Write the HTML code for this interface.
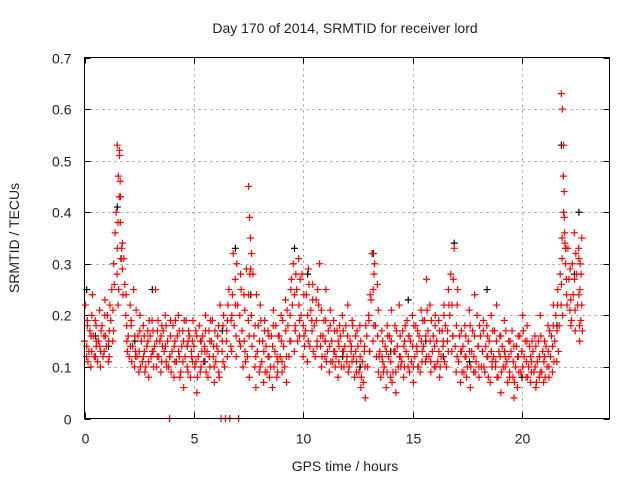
<!DOCTYPE html>
<html><head><meta charset="utf-8"><style>
body{margin:0;background:#fff}
svg{display:block;font-family:"Liberation Sans",sans-serif}
</style></head><body>
<svg id="chart" width="640" height="480">
<text x="345" y="33" text-anchor="middle" font-size="14" fill="#222">Day 170 of 2014, SRMTID for receiver lord</text>
<text transform="translate(19,238) rotate(-90)" text-anchor="middle" font-size="14" fill="#222">SRMTID / TECUs</text>
<text x="345" y="471" text-anchor="middle" font-size="14" fill="#222">GPS time / hours</text>
<g id="grid"></g>
<g id="ticks"></g>
<g id="black"></g>
<g id="red"></g>
<rect x="84.5" y="57.5" width="525" height="361" fill="none" stroke="#000" stroke-width="1"/>
</svg>
<script>
const xTicks=[0,5,10,15,20];
const yTicks=[0,0.1,0.2,0.3,0.4,0.5,0.6,0.7];
const yTickLabels=["0","0.1","0.2","0.3","0.4","0.5","0.6","0.7"];
const redTimes=[0.0,0.2,0.4,0.6,0.8,1.0,1.2,1.4,1.5,1.6,1.8,2.0,2.2,2.4,2.6,2.8,3.0,3.2,3.4,3.6,3.8,4.0,4.2,4.4,4.6,4.8,5.0,5.2,5.4,5.6,5.8,6.0,6.2,6.4,6.6,6.8,7.0,7.2,7.4,7.5,7.7,7.9,8.1,8.3,8.5,8.7,8.9,9.1,9.3,9.5,9.7,9.9,10.1,10.3,10.5,10.7,10.9,11.1,11.3,11.5,11.7,11.9,12.1,12.3,12.5,12.7,12.9,13.1,13.3,13.5,13.7,13.9,14.1,14.3,14.5,14.7,14.9,15.1,15.3,15.5,15.7,15.9,16.1,16.3,16.5,16.7,16.9,17.1,17.3,17.5,17.7,17.9,18.1,18.3,18.5,18.7,18.9,19.1,19.3,19.5,19.7,19.9,20.1,20.3,20.5,20.7,20.9,21.1,21.3,21.5,21.7,21.8,21.9,22.1,22.3,22.5,22.6];
const redVals=[[.15,.22,.12,.18],[.13,.17,.10,.20],[.16,.12,.19,.14],[.11,.15,.21,.13],[.18,.12,.16,.23],[.14,.20,.11,.17],[.19,.25,.15,.30],[.36,.40,.28,.22],[.53,.47,.43,.38],[.52,.43,.31,.34],[.31,.26,.20,.15],[.16,.12,.22,.18],[.14,.25,.10,.13],[.12,.16,.09,.20],[.15,.11,.18,.13],[.10,.14,.17,.08],[.16,.12,.19,.13],[.14,.25,.10,.17],[.12,.15,.09,.18],[.17,.13,.20,.11],[.15,.10,0,.19],[.13,.18,.08,.15],[.11,.16,.20,.12],[.09,.14,.17,.06],[.12,.19,.10,.15],[.16,.08,.13,.11],[.14,.10,.17,.05],[.12,.18,.09,.15],[.16,.11,.14,.20],[.13,.08,.17,.10],[.15,.19,.12,.07],[.11,.14,.16,.09],[.22,0,.13,.18],[.10,0,.15,.19],[.25,0,.14,.20],[.32,.18,.27,.12],[.22,0,.15,.28],[.17,.10,.24,.13],[.29,.12,.19,.08],[.45,.39,.35,.32],[.28,.16,.10,.06],[.13,.18,.09,.22],[.11,.15,.07,.19],[.14,.09,.17,.12],[.10,.16,.06,.21],[.13,.18,.08,.11],[.16,.12,.20,.09],[.14,.10,.23,.07],[.18,.12,.15,.25],[.22,.30,.13,.17],[.25,.15,.31,.19],[.20,.28,.12,.16],[.17,.24,.11,.29],[.14,.21,.19,.26],[.18,.12,.23,.15],[.22,.30,.14,.10],[.16,.19,.12,.25],[.13,.17,.09,.21],[.15,.11,.19,.13],[.12,.17,.08,.14],[.16,.10,.20,.13],[.14,.18,.11,.22],[.10,.15,.13,.19],[.12,.08,.16,.11],[.14,.09,.18,.06],[.11,.07,.13,.04],[.16,.10,.20,.13],[.23,.32,.15,.28],[.18,.12,.26,.09],[.13,.08,.17,.11],[.10,.14,.06,.18],[.12,.16,.08,.21],[.09,.13,.18,.05],[.14,.10,.22,.12],[.11,.17,.08,.15],[.13,.19,.10,.16],[.15,.11,.20,.07],[.12,.18,.14,.10],[.16,.09,.21,.13],[.14,.19,.11,.27],[.17,.12,.22,.09],[.13,.16,.10,.20],[.15,.11,.19,.08],[.12,.17,.14,.22],[.18,.10,.15,.25],[.20,.28,.13,.16],[.33,.14,.09,.22],[.11,.16,.07,.13],[.14,.09,.18,.12],[.10,.15,.21,.06],[.13,.17,.09,.24],[.11,.20,.14,.08],[.16,.10,.13,.19],[.09,.14,.18,.12],[.15,.07,.20,.11],[.12,.17,.10,.22],[.08,.13,.16,.05],[.14,.10,.19,.12],[.11,.07,.15,.09],[.13,.17,.08,.04],[.10,.14,.06,.12],[.16,.09,.13,.20],[.12,.15,.08,.18],[.10,.14,.07,.11],[.13,.09,.16,.06],[.11,.15,.08,.20],[.09,.13,.07,.12],[.14,.10,.18,.08],[.12,.16,.09,.22],[.15,.20,.11,.25],[.18,.28,.22,.35],[.63,.60,.47,.39],[.40,.36,.30,.24],[.33,.27,.21,.18],[.30,.24,.36,.17],[.28,.22,.33,.15],[.31,.25,.19,.35]];
const redVals2=[[.14,.19,.11],[.16,.13,.24],[.12,.18,.15],[.14,.10,.17],[.13,.20,.16],[.15,.12,.22],[.21,.17,.26],[.33,.38,.25],[.51,.46,.31],[.33,.29,.24],[.24,.18,.13],[.14,.19,.11],[.16,.12,.21],[.13,.17,.10],[.12,.16,.09],[.15,.11,.19],[.13,.17,.10],[.15,.12,.19],[.16,.11,.14],[.14,.18,.10],[.12,.16,.09],[.14,.11,.19],[.13,.17,.08],[.11,.15,.19],[.14,.09,.17],[.12,.15,.19],[.11,.16,.08],[.15,.10,.13],[.13,.17,.09],[.12,.15,.19],[.14,.10,.17],[.13,.18,.08],[.15,.11,.20],[.17,.12,.22],[.19,.13,.24],[.22,.16,.30],[.20,.14,.25],[.15,.21,.11],[.24,.16,.28],[.29,.20,.14],[.18,.12,.24],[.15,.10,.19],[.13,.17,.09],[.12,.16,.08],[.14,.18,.10],[.12,.09,.16],[.15,.11,.19],[.17,.12,.21],[.20,.15,.27],[.24,.18,.28],[.22,.16,.27],[.18,.24,.14],[.20,.15,.26],[.17,.23,.13],[.19,.14,.25],[.16,.21,.12],[.15,.19,.11],[.14,.18,.11],[.13,.17,.10],[.15,.11,.18],[.13,.17,.10],[.12,.16,.09],[.14,.11,.18],[.13,.09,.17],[.12,.15,.08],[.14,.10,.18],[.19,.13,.24],[.25,.18,.30],[.16,.21,.12],[.12,.15,.09],[.13,.09,.16],[.11,.15,.07],[.13,.09,.17],[.12,.16,.10],[.14,.10,.18],[.12,.16,.09],[.14,.10,.18],[.13,.17,.10],[.15,.11,.19],[.16,.12,.21],[.15,.11,.19],[.14,.18,.10],[.13,.17,.10],[.15,.20,.11],[.17,.13,.22],[.22,.16,.27],[.18,.12,.25],[.13,.17,.09],[.12,.16,.08],[.13,.18,.10],[.12,.16,.09],[.14,.10,.18],[.13,.17,.10],[.12,.16,.08],[.13,.10,.17],[.11,.15,.08],[.12,.16,.09],[.13,.10,.17],[.12,.08,.15],[.11,.14,.07],[.12,.16,.09],[.13,.10,.17],[.11,.15,.08],[.12,.09,.15],[.10,.14,.07],[.12,.09,.16],[.11,.15,.08],[.13,.10,.17],[.14,.18,.11],[.17,.22,.13],[.26,.31,.20],[.53,.44,.34],[.33,.27,.22],[.29,.23,.19],[.27,.21,.32],[.24,.18,.30],[.28,.22,.17]];
const blackTimes=[0.1,0.5,1.1,1.5,2.3,3.1,3.9,4.7,5.5,6.3,6.9,7.6,8.4,9.6,10.2,11.0,11.8,12.6,13.2,14.0,14.8,15.6,16.4,16.9,17.6,18.4,19.2,20.0,20.8,21.6,21.8,22.0,22.4,22.6];
const blackVals=[0.25,0.16,0.14,0.41,0.15,0.25,0.12,0.14,0.11,0.17,0.33,0.24,0.12,0.33,0.28,0.15,0.12,0.10,0.32,0.13,0.23,0.15,0.12,0.34,0.11,0.25,0.13,0.08,0.12,0.18,0.53,0.33,0.28,0.40];
const NS='http://www.w3.org/2000/svg';
const X0=84.5,X1=609.5,Y0=418.5,Y1=57.5,XMAX=24,YMAX=0.7;
function xs(v){return X0+(X1-X0)*v/XMAX;}
function ys(v){return Y0-(Y0-Y1)*v/YMAX;}
function mk(tag,attrs,parent){const e=document.createElementNS(NS,tag);for(const k in attrs)e.setAttribute(k,attrs[k]);parent.appendChild(e);return e;}
const grid=document.getElementById('grid'),ticks=document.getElementById('ticks');
yTicks.forEach((v,i)=>{
  const y=Math.round(ys(v))+0.5;
  if(i>0&&i<yTicks.length-1){const g=mk('line',{x1:X0,x2:X1,y1:y,y2:y,stroke:'#999','stroke-dasharray':'2,4'},grid);
  
  }
  mk('line',{x1:X0,x2:X0+6,y1:y,y2:y,stroke:'#000'},ticks);
  mk('line',{x1:X1,x2:X1-6,y1:y,y2:y,stroke:'#000'},ticks);
  const t=mk('text',{x:X0-13,y:y+5,'text-anchor':'end','font-size':'14',fill:'#222'},ticks);
  t.textContent=yTickLabels[i];
  
  
});
xTicks.forEach(v=>{
  const x=Math.round(xs(v))+0.5;
  if(v>0){const g=mk('line',{x1:x,x2:x,y1:Y0,y2:Y1,stroke:'#999','stroke-dasharray':'2,4'},grid);
  
  }
  mk('line',{x1:x,x2:x,y1:Y0,y2:Y0-6,stroke:'#000'},ticks);
  mk('line',{x1:x,x2:x,y1:Y1,y2:Y1+6,stroke:'#000'},ticks);
  const t=mk('text',{x:x,y:Y0+25,'text-anchor':'middle','font-size':'14',fill:'#222'},ticks);
  t.textContent=String(v);
  
  
});
function plus(g,t,v,color){
  const x=xs(t),y=ys(v);
  const p=mk('path',{d:`M${x-3.5},${y}H${x+3.5}M${x},${y-3.5}V${y+3.5}`,stroke:color,'stroke-width':'1.2',fill:'none'},g);
  
  
}
const bg=document.getElementById('black'),rg=document.getElementById('red');
blackTimes.forEach((t,i)=>plus(bg,t,blackVals[i],'#000'));
redTimes.forEach((t,i)=>redVals[i].forEach((v,j)=>plus(rg,t+j*0.045,v,'#f00')));
redTimes.forEach((t,i)=>redVals2[i].forEach((v,j)=>plus(rg,t+0.1+j*0.03,v,'#f00')));
</script>
</body></html>
